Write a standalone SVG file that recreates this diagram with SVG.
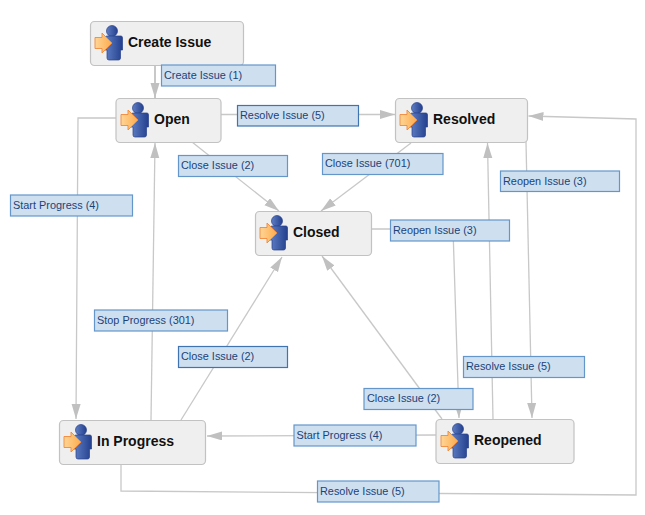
<svg xmlns="http://www.w3.org/2000/svg" width="645" height="515" viewBox="0 0 645 515">
<style>
.c{fill:none;stroke:#c8c8c8;stroke-width:1.3}
.n rect{fill:#efefef;stroke:#c2c2c2;stroke-width:1.2}
.n text{font:bold 14px "Liberation Sans",Arial,sans-serif;fill:#111}
.l rect{fill:#cedff0;stroke:#6496ca;stroke-width:1.2}
.l.d rect{stroke:#3f74b0}
.l text{font:10.900px "Liberation Sans",Arial,sans-serif;fill:#1c4378}
</style>
<defs>
<marker id="a" markerUnits="userSpaceOnUse" markerWidth="16" markerHeight="10" refX="15" refY="4.500" orient="auto"><path d="M0 0L15 4.500L0 9Z" fill="#c0c0c0"/></marker>
<linearGradient id="b" x1="0" x2="1" y1="0" y2="0"><stop offset="0" stop-color="#5f7fc4"/><stop offset="1" stop-color="#233f8e"/></linearGradient>
<linearGradient id="o" x1="0" x2="1" y1="0" y2="0"><stop offset="0" stop-color="#ffd596"/><stop offset="1" stop-color="#fdab4c"/></linearGradient>
<g id="i">
<circle cx="17" cy="-11" r="5.500" fill="url(#b)" stroke="#27408c" stroke-width=".7"/>
<path d="M12-6H26Q27.500-6 27.500-4V8H25.500V16Q25.500 18 23.500 18H14Q12 18 12 16V8H10V-4Q10-6 12-6Z" fill="url(#b)" stroke="#27408c" stroke-width=".7"/>
<path d="M0-4.500H7V-9L17 1L7 11V6.500H0Z" fill="url(#o)" stroke="#f2883a" stroke-width=".9"/>
</g>
</defs>
<g id="connectors">
<path class="c" style="stroke-width:2" d="M155 65V98" marker-end="url(#a)"/>
<path class="c" d="M221 114.500H395" marker-end="url(#a)"/>
<path class="c" d="M192 142L279 211" marker-end="url(#a)"/>
<path class="c" d="M411 143L321 211" marker-end="url(#a)"/>
<path class="c" d="M371 229H453L459 418" marker-end="url(#a)"/>
<path class="c" d="M526 142L532 418" marker-end="url(#a)"/>
<path class="c" d="M493 419L487.500 143" marker-end="url(#a)"/>
<path class="c" d="M442 419L322 256" marker-end="url(#a)"/>
<path class="c" d="M181 420L282 257" marker-end="url(#a)"/>
<path class="c" d="M151 420L155 143" marker-end="url(#a)"/>
<path class="c" d="M116 118H78L76 419" marker-end="url(#a)"/>
<path class="c" d="M436 435L207 436" marker-end="url(#a)"/>
<path class="c" d="M121 464V491L636 495V119L528.500 116" marker-end="url(#a)"/>
</g>
<g id="node-create-issue" class="n"><rect x="90.500" y="21.500" width="153" height="44" rx="4"/><use href="#i" x="95" y="42"/><text x="128" y="47">Create Issue</text></g>
<g id="node-open" class="n"><rect x="116" y="98.500" width="105" height="44" rx="4"/><use href="#i" x="121" y="119"/><text x="154" y="124">Open</text></g>
<g id="node-resolved" class="n"><rect x="395.500" y="98.500" width="132" height="44" rx="4"/><use href="#i" x="400" y="119"/><text x="433" y="124">Resolved</text></g>
<g id="node-closed" class="n"><rect x="255.500" y="211.500" width="116" height="44" rx="4"/><use href="#i" x="260" y="232"/><text x="293" y="237">Closed</text></g>
<g id="node-in-progress" class="n"><rect x="59.500" y="420.500" width="146" height="44" rx="4"/><use href="#i" x="64" y="441"/><text x="97" y="446">In Progress</text></g>
<g id="node-reopened" class="n"><rect x="436" y="419.500" width="138" height="44" rx="4"/><use href="#i" x="441" y="440"/><text x="474" y="445">Reopened</text></g>
<g id="labels">
<g class="l"><rect x="161.500" y="65" width="114" height="21"/><text x="164" y="79">Create Issue (1)</text></g>
<g class="l d"><rect x="237.500" y="105.500" width="121" height="20.500"/><text x="240" y="119">Resolve Issue (5)</text></g>
<g class="l"><rect x="178.500" y="155.500" width="109" height="21"/><text x="181" y="169">Close Issue (2)</text></g>
<g class="l"><rect x="322.500" y="153.500" width="120.500" height="21"/><text x="325" y="167">Close Issue (701)</text></g>
<g class="l"><rect x="500.500" y="171" width="119" height="20.500"/><text x="503" y="185">Reopen Issue (3)</text></g>
<g class="l"><rect x="10.500" y="195" width="122" height="21"/><text x="13" y="209">Start Progress (4)</text></g>
<g class="l"><rect x="390.500" y="220" width="119" height="21"/><text x="393" y="234">Reopen Issue (3)</text></g>
<g class="l"><rect x="94.500" y="310" width="133" height="21"/><text x="97" y="324">Stop Progress (301)</text></g>
<g class="l d"><rect x="178.500" y="346.500" width="109" height="21"/><text x="181" y="360">Close Issue (2)</text></g>
<g class="l"><rect x="463.500" y="356.500" width="121" height="21"/><text x="466" y="370">Resolve Issue (5)</text></g>
<g class="l"><rect x="364" y="388.500" width="109" height="21"/><text x="367" y="402">Close Issue (2)</text></g>
<g class="l"><rect x="294" y="425" width="122" height="21"/><text x="296.500" y="439">Start Progress (4)</text></g>
<g class="l"><rect x="317.500" y="481" width="121.500" height="21"/><text x="320" y="495">Resolve Issue (5)</text></g>
</g>
</svg>
